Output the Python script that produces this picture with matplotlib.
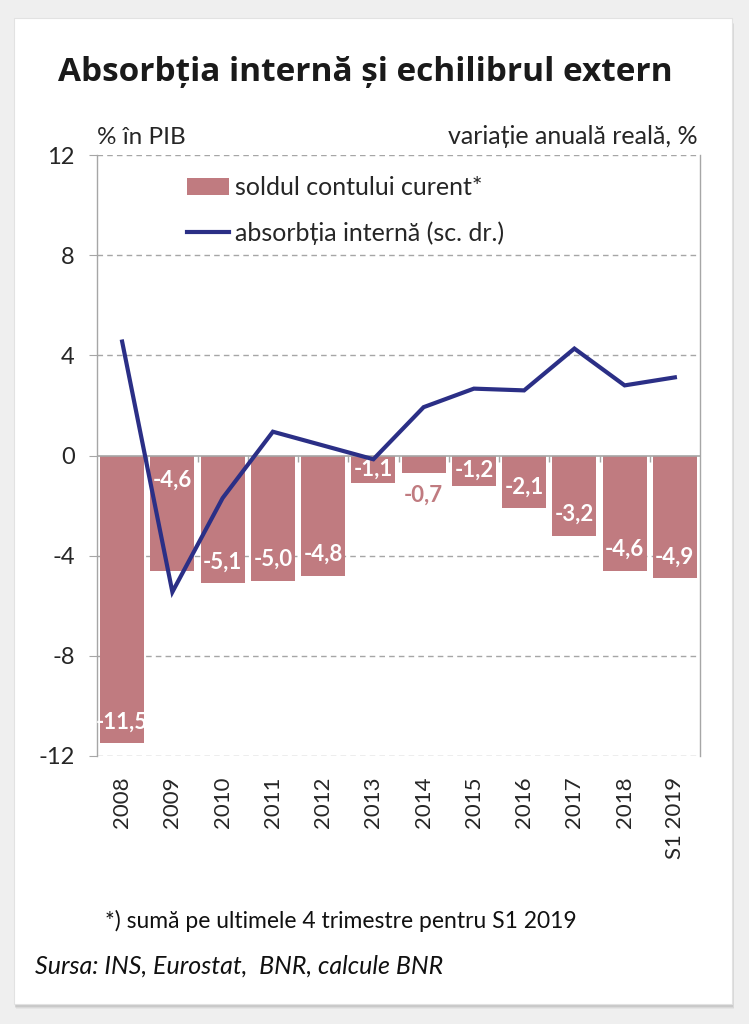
import matplotlib
matplotlib.use("Agg")
import matplotlib.pyplot as plt
from matplotlib.patches import FancyBboxPatch, Patch
from matplotlib.lines import Line2D
import numpy as np

# ---- data ----
categories = ["2008", "2009", "2010", "2011", "2012", "2013", "2014",
              "2015", "2016", "2017", "2018", "S1 2019"]
current_account = [-11.5, -4.6, -5.1, -5.0, -4.8, -1.1, -0.7, -1.2, -2.1, -3.2, -4.6, -4.9]
absorption = [4.55, -5.45, -1.7, 0.95, 0.4, -0.15, 1.93, 2.67, 2.6, 4.27, 2.8, 3.12]
bar_labels = ["-11,5", "-4,6", "-5,1", "-5,0", "-4,8", "-1,1", "-0,7",
              "-1,2", "-2,1", "-3,2", "-4,6", "-4,9"]
yticks = [-12, -8, -4, 0, 4, 8, 12]

BAR = "#C07B80"
LINE = "#2B2F86"
GRID = "#A6A6A6"
TXT = "#262626"
FONT = ["Lato", "DejaVu Sans"]
plt.rcParams["font.family"] = FONT

W, H = 749, 1024
fig = plt.figure(figsize=(W / 100, H / 100), dpi=100)
fig.patch.set_facecolor("#EFEFEF")

def fx(px):
    return px / W

def fy(py):
    return 1 - py / H

# card shadow + card
for i, a in enumerate([0.04, 0.05, 0.07]):
    off = 4 - i
    fig.patches.append(FancyBboxPatch((fx(14 + off * 0.5), fy(1005 + off)), fx(718), 985 / H,
                                      boxstyle="square,pad=0", transform=fig.transFigure,
                                      facecolor="black", alpha=a, edgecolor="none", zorder=0))
fig.patches.append(FancyBboxPatch((fx(14), fy(1004)), fx(718), 986 / H,
                                  boxstyle="square,pad=0", transform=fig.transFigure,
                                  facecolor="white", edgecolor="#E2E2E2", lw=0.8, zorder=1))

# ---- axes ----
left, right, top, bottom = 97, 700, 155, 756
ax = fig.add_axes([fx(left), fy(bottom), (right - left) / W, (bottom - top) / H])
ax.set_zorder(3)
ax.patch.set_alpha(0)
x = np.arange(len(categories))
ax.set_xlim(-0.5, len(categories) - 0.5)
ax.set_ylim(-12, 12)
ax.set_yticks(yticks)
ax.set_yticklabels([str(t) for t in yticks], fontsize=17, color=TXT)
for t in yticks:
    if t != 0:
        ax.axhline(t, color=GRID, lw=1.0, ls=(0, (4, 3)), zorder=1)
ax.axhline(0, color=GRID, lw=1.2, zorder=4)

bars = ax.bar(x, current_account, width=0.88, color=BAR, zorder=2)
# category tick marks on the zero line
ax.vlines(x[:-1] + 0.5, -0.25, 0, color=GRID, lw=1.0, zorder=4)

for sp in ["top", "bottom"]:
    ax.spines[sp].set_visible(False)
for sp in ["left", "right"]:
    ax.spines[sp].set_color(GRID)
    ax.spines[sp].set_linewidth(1.0)
ax.tick_params(axis="y", which="both", left=True, right=True, labelright=False,
               length=6, color=GRID, pad=10)
ax.set_xticks(x)
ax.set_xticklabels(categories, rotation=90, fontsize=16, color=TXT)
ax.tick_params(axis="x", length=0, pad=15)

# bar value labels
for i, (v, lab) in enumerate(zip(current_account, bar_labels)):
    if i == 1:
        ypos, col = -1.0, "white"
    elif abs(v) < 1.0:
        ypos, col = v - 0.9, BAR
    else:
        ypos, col = min(v + 0.85, v / 2), "white"
    t = ax.text(i, ypos, lab, ha="center", va="center", fontsize=16, fontweight="bold",
                color=col, zorder=6)
    if col == "white":
        t.set_clip_path(bars[i])

# line on secondary axis (same scale)
ax2 = ax.twinx()
ax2.set_ylim(-12, 12)
ax2.set_yticks([])
for sp in ax2.spines.values():
    sp.set_visible(False)
ax2.plot(x, absorption, color=LINE, lw=3.0, zorder=5, solid_joinstyle="miter")
ax2.set_zorder(4)

# legend
handles = [Patch(facecolor=BAR, edgecolor="none"),
           Line2D([0], [0], color=LINE, lw=3.0)]
labels = ["soldul contului curent*", "absorbția internă (sc. dr.)"]
leg = ax2.legend(handles, labels, loc="upper left", bbox_to_anchor=(0.15, 0.965),
                 frameon=False, fontsize=18, handlelength=1.65, handleheight=0.7,
                 handletextpad=0.25, labelspacing=0.88, borderpad=0, borderaxespad=0)
for t in leg.get_texts():
    t.set_color(TXT)

# unit labels
fig.text(fx(97), fy(137), "% în PIB", fontsize=17.5, color=TXT, ha="left", va="center")
fig.text(fx(698), fy(137), "variație anuală reală, %", fontsize=18, color=TXT,
         ha="right", va="center")

# title
fig.text(0.488, fy(72), "Absorbția internă și echilibrul extern", fontsize=24,
         fontweight="bold", color="#1A1A1A", ha="center", va="center",
         family=["Open Sans", "DejaVu Sans"])

# footnotes
fig.text(fx(105), fy(921), "*) sumă pe ultimele 4 trimestre pentru S1 2019", fontsize=16.5,
         color="#111111", ha="left", va="center")
fig.text(fx(35), fy(966), "Sursa: INS, Eurostat,  BNR, calcule BNR", fontsize=18,
         style="italic", color="#111111", ha="left", va="center")

fig.savefig("out.png", dpi=100, facecolor=fig.get_facecolor())
